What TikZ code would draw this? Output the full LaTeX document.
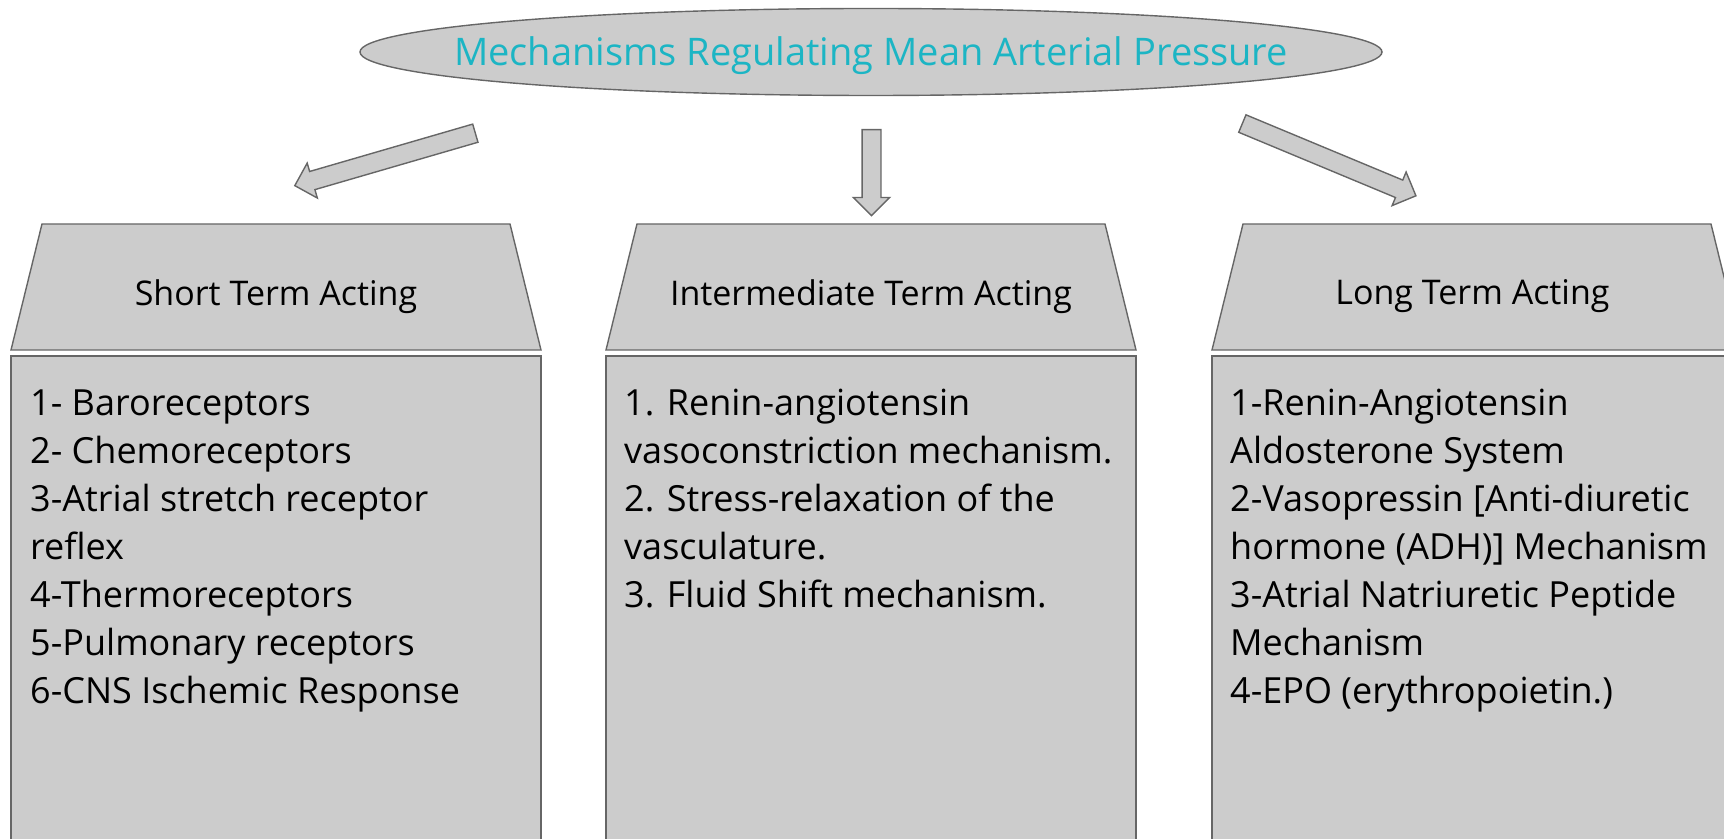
\documentclass[tikz,border=0pt]{standalone}
\usepackage{fontspec}
\setmainfont{Open Sans}
\usetikzlibrary{shapes.geometric,shapes.arrows}
\definecolor{boxfill}{HTML}{CCCCCC}
\definecolor{boxline}{HTML}{666666}
\definecolor{titleteal}{HTML}{1CB5C4}

\begin{document}
\begin{tikzpicture}[x=1bp,y=1bp,
  shapeline/.style={draw=boxline, line width=1.4bp, fill=boxfill},
  blockarrow/.style={single arrow, shapeline, inner xsep=0pt, inner ysep=8.75bp,
    single arrow head extend=8.75bp, anchor=tail},
  bodyfont/.style={font=\fontsize{36bp}{48bp}\selectfont},
  headtext/.style={font=\fontsize{34bp}{40bp}\selectfont, inner sep=0pt},
  titlefont/.style={font=\fontsize{38bp}{44bp}\selectfont},
  listtext/.style={bodyfont, anchor=base west, align=left, inner sep=0pt},
]
\useasboundingbox (0,0) rectangle (1724,839);
\clip (0,0) rectangle (1724,839);

% title ellipse
\node[ellipse, shapeline, minimum width=1022bp, minimum height=87bp, inner sep=0pt] (title) at (871,787) {};
\node[titlefont, text=titleteal, inner sep=0pt] (titletext) at (871,783.5) {Mechanisms Regulating Mean Arterial Pressure};

% block arrows, placed by their tail
\node[blockarrow, minimum height=188bp, rotate=196.2] (arrL) at (476,706) {};
\node[blockarrow, minimum height=86bp, rotate=-90] (arrM) at (871.5,710) {};
\node[blockarrow, minimum height=188bp, rotate=-22.6] (arrR) at (1241.7,715.7) {};

% three columns: header trapezium and list panel
\foreach \L in {11, 606, 1212} {
  \draw[shapeline] (\L,489) -- (\L+530,489) -- (\L+499,615) -- (\L+31,615) -- cycle;
  \draw[shapeline] (\L,483) rectangle (\L+530,-20);
}

\node[headtext] (hshort) at (276,542.5) {Short Term Acting};
\node[headtext] (hinter) at (871,542.5) {Intermediate Term Acting};
\node[headtext] (hlong) at (1472.5,542.5) {Long Term Acting};

% lists (anchored at the baseline of their last line)
\node[listtext] (lshort) at (30,135.7) {1- Baroreceptors\\2- Chemoreceptors\\3-Atrial stretch receptor\\reflex\\4-Thermoreceptors\\5-Pulmonary receptors\\6-CNS Ischemic Response};
\node[listtext] (linter) at (624,231.7) {1. Renin-angiotensin\\vasoconstriction mechanism.\\2. Stress-relaxation of the\\vasculature.\\3. Fluid Shift mechanism.};
\node[listtext] (llong) at (1230,135.7) {1-Renin-Angiotensin\\Aldosterone System\\2-Vasopressin [Anti-diuretic\\hormone (ADH)] Mechanism\\3-Atrial Natriuretic Peptide\\Mechanism\\4-EPO (erythropoietin.)};
\end{tikzpicture}
\end{document}
